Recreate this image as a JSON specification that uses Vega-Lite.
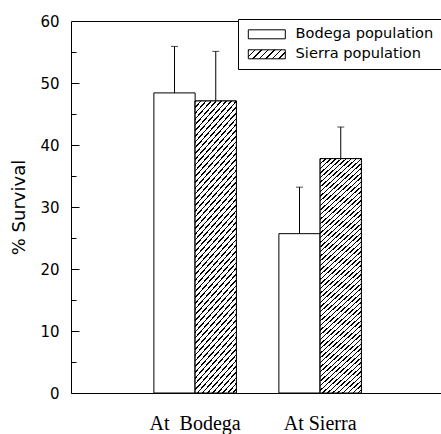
{
 "$schema": "https://vega.github.io/schema/vega-lite/v6.json",
 "width": 370,
 "height": 372,
 "autosize": {"type": "none"},
 "padding": {"left": 71, "top": 21, "right": 0, "bottom": 41},
 "background": "white",
 "config": {
  "view": {"stroke": "#000", "strokeWidth": 1},
  "axis": {"domainColor": "#000", "tickColor": "#000", "labelColor": "#000", "titleColor": "#000", "grid": false, "domainWidth": 1, "tickWidth": 1, "domainOpacity": 1, "tickOpacity": 1}
 },
 "data": {"values": [
  {"site": "At Bodega", "population": "Bodega population", "survival": 48.4, "upper": 55.9},
  {"site": "At Bodega", "population": "Sierra population", "survival": 47.1, "upper": 55.1},
  {"site": "At Sierra", "population": "Bodega population", "survival": 25.7, "upper": 33.2},
  {"site": "At Sierra", "population": "Sierra population", "survival": 37.8, "upper": 42.9}
 ]},
 "resolve": {"axis": {"y": "independent"}},
 "layer": [
  {
   "mark": {"type": "bar", "stroke": "#000", "strokeWidth": 1},
   "encoding": {
    "x": {"field": "site", "type": "nominal",
     "scale": {"paddingInner": 0.34, "paddingOuter": 0.65, "align": 0.51},
     "axis": {"title": null, "ticks": false, "labelAngle": 0, "labelFont": "Liberation Serif", "labelFontSize": 20, "labelPadding": 20, "labelColor": "#000",
      "labelExpr": "datum.label == 'At Bodega' ? 'At\u00a0 Bodega' : datum.label"}},
    "xOffset": {"field": "population", "type": "nominal", "scale": {"paddingInner": 0, "paddingOuter": 0}},
    "y": {"field": "survival", "type": "quantitative", "scale": {"domain": [0, 60], "nice": false},
     "axis": {"orient": "left", "title": "% Survival", "titleFont": "DejaVu Sans", "titleFontSize": 18, "titleFontWeight": "normal", "titlePadding": 11,
      "values": [0, 10, 20, 30, 40, 50, 60], "ticks": false, "domain": false,
      "labelPadding": 12, "labelFont": "DejaVu Sans", "labelFontSize": 15, "labelOverlap": false}},
    "fill": {"field": "population", "type": "nominal",
     "scale": {"domain": ["Bodega population", "Sierra population"],
      "range": ["#fff", {"expr": "{gradient:'linear',x1:0,y1:0,x2:1.173,y2:0.2855,stops:[{offset:0,color:'#000'},{offset:0.03,color:'#000'},{offset:0.03,color:'#fff'},{offset:0.14,color:'#fff'},{offset:0.14,color:'#000'},{offset:0.17,color:'#000'},{offset:0.17,color:'#fff'},{offset:0.28,color:'#fff'},{offset:0.28,color:'#000'},{offset:0.31,color:'#000'},{offset:0.31,color:'#fff'},{offset:0.42,color:'#fff'},{offset:0.42,color:'#000'},{offset:0.45,color:'#000'},{offset:0.45,color:'#fff'},{offset:0.56,color:'#fff'},{offset:0.56,color:'#000'},{offset:0.59,color:'#000'},{offset:0.59,color:'#fff'},{offset:0.7,color:'#fff'},{offset:0.7,color:'#000'},{offset:0.73,color:'#000'},{offset:0.73,color:'#fff'},{offset:0.84,color:'#fff'},{offset:0.84,color:'#000'},{offset:0.87,color:'#000'},{offset:0.87,color:'#fff'},{offset:0.98,color:'#fff'},{offset:0.98,color:'#000'},{offset:1,color:'#000'}]}"}]},
     "legend": {"title": null, "orient": "none", "legendX": 167, "legendY": -2, "direction": "vertical",
      "strokeColor": "#000", "fillColor": "#fff", "padding": 8,
      "symbolType": "M-1,-0.9H6.4V0.9H-1Z", "symbolSize": 100, "symbolStrokeColor": "#000", "symbolStrokeWidth": 1, "symbolOpacity": 1,
      "labelFont": "DejaVu Sans", "labelFontSize": 14.6, "labelColor": "#000", "labelOffset": 35, "rowPadding": 5, "labelLimit": 300}}
   }
  },
  {
   "transform": [{"filter": "datum.population == 'Sierra population'"}],
   "mark": {"type": "bar", "stroke": "#000", "strokeWidth": 1,
    "fill": {"gradient": "linear", "x1": 0, "y1": 0, "x2": 0.181, "y2": 1.131, "stops": [
{"offset":0,"color":"#000"},{"offset":0.005,"color":"#000"},{"offset":0.005,"color":"#fff"},{"offset":0.017,"color":"#fff"},
{"offset":0.017,"color":"#000"},{"offset":0.022,"color":"#000"},{"offset":0.022,"color":"#fff"},{"offset":0.034,"color":"#fff"},
{"offset":0.034,"color":"#000"},{"offset":0.039,"color":"#000"},{"offset":0.039,"color":"#fff"},{"offset":0.051,"color":"#fff"},
{"offset":0.051,"color":"#000"},{"offset":0.056,"color":"#000"},{"offset":0.056,"color":"#fff"},{"offset":0.068,"color":"#fff"},
{"offset":0.068,"color":"#000"},{"offset":0.073,"color":"#000"},{"offset":0.073,"color":"#fff"},{"offset":0.085,"color":"#fff"},
{"offset":0.085,"color":"#000"},{"offset":0.090,"color":"#000"},{"offset":0.090,"color":"#fff"},{"offset":0.102,"color":"#fff"},
{"offset":0.102,"color":"#000"},{"offset":0.107,"color":"#000"},{"offset":0.107,"color":"#fff"},{"offset":0.119,"color":"#fff"},
{"offset":0.119,"color":"#000"},{"offset":0.124,"color":"#000"},{"offset":0.124,"color":"#fff"},{"offset":0.136,"color":"#fff"},
{"offset":0.136,"color":"#000"},{"offset":0.141,"color":"#000"},{"offset":0.141,"color":"#fff"},{"offset":0.153,"color":"#fff"},
{"offset":0.153,"color":"#000"},{"offset":0.158,"color":"#000"},{"offset":0.158,"color":"#fff"},{"offset":0.170,"color":"#fff"},
{"offset":0.170,"color":"#000"},{"offset":0.175,"color":"#000"},{"offset":0.175,"color":"#fff"},{"offset":0.187,"color":"#fff"},
{"offset":0.187,"color":"#000"},{"offset":0.192,"color":"#000"},{"offset":0.192,"color":"#fff"},{"offset":0.204,"color":"#fff"},
{"offset":0.204,"color":"#000"},{"offset":0.209,"color":"#000"},{"offset":0.209,"color":"#fff"},{"offset":0.221,"color":"#fff"},
{"offset":0.221,"color":"#000"},{"offset":0.226,"color":"#000"},{"offset":0.226,"color":"#fff"},{"offset":0.238,"color":"#fff"},
{"offset":0.238,"color":"#000"},{"offset":0.243,"color":"#000"},{"offset":0.243,"color":"#fff"},{"offset":0.255,"color":"#fff"},
{"offset":0.255,"color":"#000"},{"offset":0.260,"color":"#000"},{"offset":0.260,"color":"#fff"},{"offset":0.272,"color":"#fff"},
{"offset":0.272,"color":"#000"},{"offset":0.277,"color":"#000"},{"offset":0.277,"color":"#fff"},{"offset":0.289,"color":"#fff"},
{"offset":0.289,"color":"#000"},{"offset":0.294,"color":"#000"},{"offset":0.294,"color":"#fff"},{"offset":0.306,"color":"#fff"},
{"offset":0.306,"color":"#000"},{"offset":0.311,"color":"#000"},{"offset":0.311,"color":"#fff"},{"offset":0.323,"color":"#fff"},
{"offset":0.323,"color":"#000"},{"offset":0.328,"color":"#000"},{"offset":0.328,"color":"#fff"},{"offset":0.340,"color":"#fff"},
{"offset":0.340,"color":"#000"},{"offset":0.345,"color":"#000"},{"offset":0.345,"color":"#fff"},{"offset":0.357,"color":"#fff"},
{"offset":0.357,"color":"#000"},{"offset":0.362,"color":"#000"},{"offset":0.362,"color":"#fff"},{"offset":0.374,"color":"#fff"},
{"offset":0.374,"color":"#000"},{"offset":0.379,"color":"#000"},{"offset":0.379,"color":"#fff"},{"offset":0.391,"color":"#fff"},
{"offset":0.391,"color":"#000"},{"offset":0.396,"color":"#000"},{"offset":0.396,"color":"#fff"},{"offset":0.408,"color":"#fff"},
{"offset":0.408,"color":"#000"},{"offset":0.413,"color":"#000"},{"offset":0.413,"color":"#fff"},{"offset":0.425,"color":"#fff"},
{"offset":0.425,"color":"#000"},{"offset":0.430,"color":"#000"},{"offset":0.430,"color":"#fff"},{"offset":0.442,"color":"#fff"},
{"offset":0.442,"color":"#000"},{"offset":0.447,"color":"#000"},{"offset":0.447,"color":"#fff"},{"offset":0.459,"color":"#fff"},
{"offset":0.459,"color":"#000"},{"offset":0.464,"color":"#000"},{"offset":0.464,"color":"#fff"},{"offset":0.476,"color":"#fff"},
{"offset":0.476,"color":"#000"},{"offset":0.481,"color":"#000"},{"offset":0.481,"color":"#fff"},{"offset":0.493,"color":"#fff"},
{"offset":0.493,"color":"#000"},{"offset":0.498,"color":"#000"},{"offset":0.498,"color":"#fff"},{"offset":0.510,"color":"#fff"},
{"offset":0.510,"color":"#000"},{"offset":0.515,"color":"#000"},{"offset":0.515,"color":"#fff"},{"offset":0.527,"color":"#fff"},
{"offset":0.527,"color":"#000"},{"offset":0.532,"color":"#000"},{"offset":0.532,"color":"#fff"},{"offset":0.544,"color":"#fff"},
{"offset":0.544,"color":"#000"},{"offset":0.549,"color":"#000"},{"offset":0.549,"color":"#fff"},{"offset":0.561,"color":"#fff"},
{"offset":0.561,"color":"#000"},{"offset":0.566,"color":"#000"},{"offset":0.566,"color":"#fff"},{"offset":0.578,"color":"#fff"},
{"offset":0.578,"color":"#000"},{"offset":0.583,"color":"#000"},{"offset":0.583,"color":"#fff"},{"offset":0.595,"color":"#fff"},
{"offset":0.595,"color":"#000"},{"offset":0.600,"color":"#000"},{"offset":0.600,"color":"#fff"},{"offset":0.612,"color":"#fff"},
{"offset":0.612,"color":"#000"},{"offset":0.617,"color":"#000"},{"offset":0.617,"color":"#fff"},{"offset":0.629,"color":"#fff"},
{"offset":0.629,"color":"#000"},{"offset":0.634,"color":"#000"},{"offset":0.634,"color":"#fff"},{"offset":0.646,"color":"#fff"},
{"offset":0.646,"color":"#000"},{"offset":0.651,"color":"#000"},{"offset":0.651,"color":"#fff"},{"offset":0.663,"color":"#fff"},
{"offset":0.663,"color":"#000"},{"offset":0.668,"color":"#000"},{"offset":0.668,"color":"#fff"},{"offset":0.680,"color":"#fff"},
{"offset":0.680,"color":"#000"},{"offset":0.685,"color":"#000"},{"offset":0.685,"color":"#fff"},{"offset":0.697,"color":"#fff"},
{"offset":0.697,"color":"#000"},{"offset":0.702,"color":"#000"},{"offset":0.702,"color":"#fff"},{"offset":0.714,"color":"#fff"},
{"offset":0.714,"color":"#000"},{"offset":0.719,"color":"#000"},{"offset":0.719,"color":"#fff"},{"offset":0.731,"color":"#fff"},
{"offset":0.731,"color":"#000"},{"offset":0.736,"color":"#000"},{"offset":0.736,"color":"#fff"},{"offset":0.748,"color":"#fff"},
{"offset":0.748,"color":"#000"},{"offset":0.753,"color":"#000"},{"offset":0.753,"color":"#fff"},{"offset":0.765,"color":"#fff"},
{"offset":0.765,"color":"#000"},{"offset":0.770,"color":"#000"},{"offset":0.770,"color":"#fff"},{"offset":0.782,"color":"#fff"},
{"offset":0.782,"color":"#000"},{"offset":0.787,"color":"#000"},{"offset":0.787,"color":"#fff"},{"offset":0.799,"color":"#fff"},
{"offset":0.799,"color":"#000"},{"offset":0.804,"color":"#000"},{"offset":0.804,"color":"#fff"},{"offset":0.816,"color":"#fff"},
{"offset":0.816,"color":"#000"},{"offset":0.821,"color":"#000"},{"offset":0.821,"color":"#fff"},{"offset":0.833,"color":"#fff"},
{"offset":0.833,"color":"#000"},{"offset":0.838,"color":"#000"},{"offset":0.838,"color":"#fff"},{"offset":0.850,"color":"#fff"},
{"offset":0.850,"color":"#000"},{"offset":0.855,"color":"#000"},{"offset":0.855,"color":"#fff"},{"offset":0.867,"color":"#fff"},
{"offset":0.867,"color":"#000"},{"offset":0.872,"color":"#000"},{"offset":0.872,"color":"#fff"},{"offset":0.884,"color":"#fff"},
{"offset":0.884,"color":"#000"},{"offset":0.889,"color":"#000"},{"offset":0.889,"color":"#fff"},{"offset":0.901,"color":"#fff"},
{"offset":0.901,"color":"#000"},{"offset":0.906,"color":"#000"},{"offset":0.906,"color":"#fff"},{"offset":0.918,"color":"#fff"},
{"offset":0.918,"color":"#000"},{"offset":0.923,"color":"#000"},{"offset":0.923,"color":"#fff"},{"offset":0.935,"color":"#fff"},
{"offset":0.935,"color":"#000"},{"offset":0.940,"color":"#000"},{"offset":0.940,"color":"#fff"},{"offset":0.952,"color":"#fff"},
{"offset":0.952,"color":"#000"},{"offset":0.957,"color":"#000"},{"offset":0.957,"color":"#fff"},{"offset":0.969,"color":"#fff"},
{"offset":0.969,"color":"#000"},{"offset":0.974,"color":"#000"},{"offset":0.974,"color":"#fff"},{"offset":0.986,"color":"#fff"},
{"offset":0.986,"color":"#000"},{"offset":0.991,"color":"#000"},{"offset":0.991,"color":"#fff"},{"offset":1,"color":"#fff"}
    ]}},
   "encoding": {
    "x": {"field": "site", "type": "nominal"},
    "xOffset": {"field": "population", "type": "nominal"},
    "y": {"field": "survival", "type": "quantitative", "axis": null}
   }
  },
  {
   "mark": {"type": "rule", "color": "#000", "strokeWidth": 1},
   "encoding": {
    "x": {"field": "site", "type": "nominal"},
    "xOffset": {"field": "population", "type": "nominal"},
    "y": {"field": "survival", "type": "quantitative",
     "axis": {"orient": "left", "title": null, "values": [5, 15, 25, 35, 45, 55], "tickSize": -5, "labels": false, "domain": false}},
    "y2": {"field": "upper"}
   }
  },
  {
   "mark": {"type": "tick", "color": "#000", "thickness": 1, "size": 7, "orient": "horizontal"},
   "encoding": {
    "x": {"field": "site", "type": "nominal"},
    "xOffset": {"field": "population", "type": "nominal"},
    "y": {"field": "upper", "type": "quantitative",
     "axis": {"orient": "left", "title": null, "values": [10, 20, 30, 40, 50], "tickSize": -8, "labels": false, "domain": false}}
   }
  }
 ]
}
